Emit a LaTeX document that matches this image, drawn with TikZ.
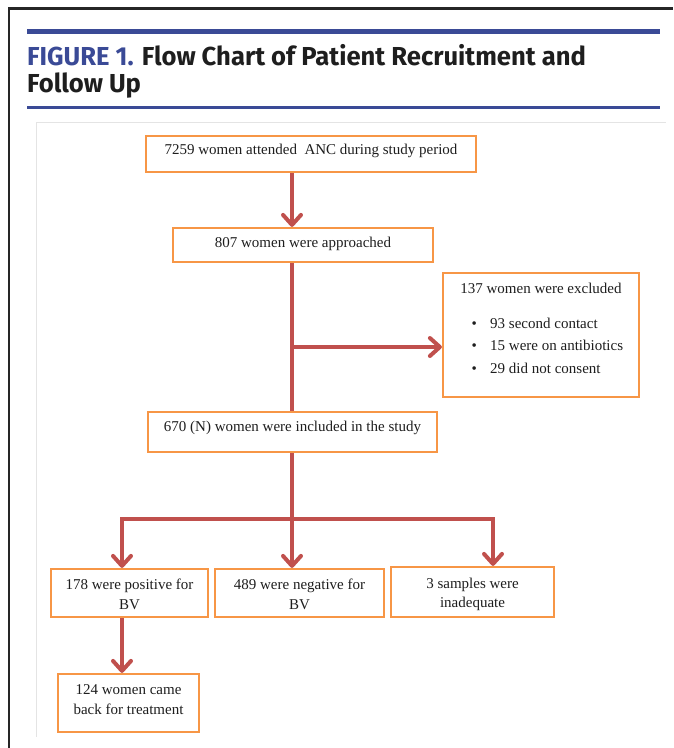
\documentclass[tikz,border=0pt]{standalone}
\usepackage{fontspec}
\setmainfont{Liberation Serif}
\newfontfamily\titlefont{Fira Sans}
\usetikzlibrary{arrows.meta}
\definecolor{boxorange}{RGB}{247,150,70}
\definecolor{arrred}{RGB}{192,80,77}
\definecolor{titleblue}{RGB}{58,74,150}
\definecolor{framegray}{RGB}{228,228,228}
\definecolor{textblack}{RGB}{30,30,30}
\begin{document}
\begin{tikzpicture}[x=1pt,y=-1pt,
  box/.style={draw=boxorange, line width=2.2pt, fill=white, inner sep=0pt,
    text=textblack, font=\fontsize{15pt}{20pt}\selectfont},
  txt/.style={inner sep=0pt, text=textblack, font=\fontsize{15pt}{20pt}\selectfont},
  conn/.style={draw=arrred, line width=4pt},
  arr/.style={conn, -{Straight Barb[length=10pt,width=18pt,line cap=round,line join=round]}},
  ttl/.style={anchor=base west, inner sep=0pt, text=textblack,
    font=\titlefont\bfseries\fontsize{26pt}{28pt}\selectfont}
]
\useasboundingbox (0,0) rectangle (673,748);
% outer frame
\draw[black!85, line width=2.5pt] (9,748) -- (9,8.5) -- (673,8.5);
% title rules
\draw[titleblue, line width=5pt] (27,31.5) -- (660,31.5);
\draw[titleblue, line width=3pt] (27,107.5) -- (660,107.5);
% title
\node[ttl] (title1) at (27,65) {\scalebox{0.985}[1]{\textcolor{titleblue}{FIGURE 1.} Flow Chart of Patient Recruitment and}};
\node[ttl] (title2) at (27,92) {\scalebox{0.985}[1]{Follow Up}};
% inner frame
\draw[framegray, line width=1pt] (36,737) -- (36,122) -- (666,122);

% boxes
\node[box, minimum width=330pt, text height=18pt, text depth=18pt] (n1) at (311,154) {7259 women attended \ ANC during study period};
\node[box, minimum width=260pt, text height=19pt, text depth=15pt] (n2) at (303,245) {807 women were approached};
\node[box, minimum width=196pt, minimum height=124pt] (excl) at (541,335) {};
\node[txt, anchor=base] (exclt) at (541,293) {137 women were excluded};
\node[txt, anchor=base] (b1) at (474.3,328.3) {•};
\node[txt, anchor=base west] (e1) at (490,328.3) {93 second contact};
\node[txt, anchor=base] (b2) at (474.3,350.8) {•};
\node[txt, anchor=base west] (e2) at (490,350.8) {15 were on antibiotics};
\node[txt, anchor=base] (b3) at (474.3,373.3) {•};
\node[txt, anchor=base west] (e3) at (490,373.3) {29 did not consent};
\node[box, minimum width=289pt, text height=19pt, text depth=21pt] (n3) at (292.5,432) {670 (N) women were included in the study};
\node[box, minimum width=157pt, text height=20pt, text depth=28pt] (pos) at (129.5,593) {\begin{tabular}[t]{@{}c@{}}178 were positive for\\BV\end{tabular}};
\node[box, minimum width=169pt, text height=20pt, text depth=28pt] (neg) at (299.5,593) {\begin{tabular}[t]{@{}c@{}}489 were negative for\\BV\end{tabular}};
\node[box, minimum width=163pt, text height=21pt, text depth=29pt] (inad) at (472.5,592) {\begin{tabular}[t]{@{}c@{}}3 samples were\\[-1pt]inadequate\end{tabular}};
\node[box, minimum width=141pt, text height=20.5pt, text depth=37.5pt] (treat) at (128.5,703) {\begin{tabular}[t]{@{}c@{}}124 women came\\back for treatment\end{tabular}};

% connectors
\coordinate (vx) at (292,0);
\coordinate (jx) at (292,347);
\coordinate (hb) at (292,519);
\coordinate (hl) at (122,519);
\coordinate (hr) at (493,519);
\draw[arr] (vx |- n1.south) -- (vx |- n2.north);
\draw[conn] (vx |- n2.south) -- (vx |- n3.north);
\draw[arr] (jx) -- (jx -| excl.west);
\draw[conn] (vx |- n3.south) -- (hb);
\draw[arr] (hb) -- (hl) -- (hl |- pos.north);
\draw[arr] (hb) -- (hr) -- (hr |- inad.north);
\draw[arr] (hb) -- (hb |- neg.north);
\draw[arr] (hl |- pos.south) -- (hl |- treat.north);
\end{tikzpicture}
\end{document}
